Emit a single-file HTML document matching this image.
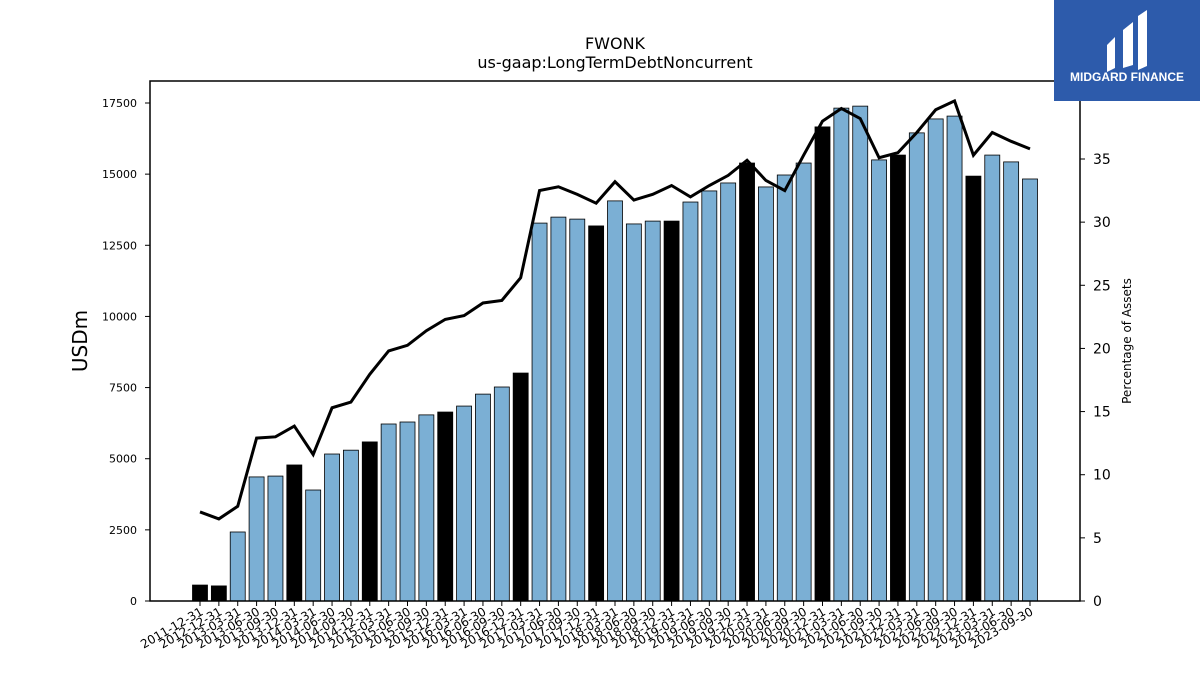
<!DOCTYPE html>
<html><head><meta charset="utf-8"><style>
body{margin:0;background:#fff;width:1200px;height:675px;overflow:hidden;font-family:"DejaVu Sans","Liberation Sans",sans-serif}
</style></head><body>
<svg id="c" width="1200" height="675" xmlns="http://www.w3.org/2000/svg">
<text x="615" y="49" text-anchor="middle" font-size="16">FWONK</text>
<text x="615" y="68" text-anchor="middle" font-size="16">us-gaap:LongTermDebtNoncurrent</text>
<text transform="translate(87,341) rotate(-90)" text-anchor="middle" font-size="20">USDm</text>
<text transform="translate(1131,341) rotate(-90)" text-anchor="middle" font-size="12">Percentage of Assets</text>
<g id="bars"></g><g id="ticks"></g>
<rect x="150" y="81" width="930" height="520" fill="none" stroke="#000" stroke-width="1.5"/>
<g>
<rect x="1054" y="0" width="146" height="101" fill="#2d5bab"/>
<path d="M1107 45 L1115 37 L1115 68 L1107 72 Z M1123 30 L1133 22 L1133 65 L1123 68 Z M1138 16 L1147 10 L1147 66 L1138 70 Z" fill="#fff"/>
<text x="1127" y="81" text-anchor="middle" font-size="12" font-weight="bold" fill="#fff" font-family="Liberation Sans, sans-serif">MIDGARD FINANCE</text>
</g>
</svg>
<script>
const categories=["2011-12-31","2012-12-31","2013-03-31","2013-06-30","2013-09-30","2013-12-31","2014-03-31","2014-06-30","2014-09-30","2014-12-31","2015-03-31","2015-06-30","2015-09-30","2015-12-31","2016-03-31","2016-06-30","2016-09-30","2016-12-31","2017-03-31","2017-06-30","2017-09-30","2017-12-31","2018-03-31","2018-06-30","2018-09-30","2018-12-31","2019-03-31","2019-06-30","2019-09-30","2019-12-31","2020-03-31","2020-06-30","2020-09-30","2020-12-31","2021-03-31","2021-06-30","2021-09-30","2021-12-31","2022-03-31","2022-06-30","2022-09-30","2022-12-31","2023-03-31","2023-06-30","2023-09-30"];
const debt=[560,530,2425,4360,4390,4780,3900,5165,5300,5590,6220,6290,6540,6640,6850,7270,7520,8010,13280,13490,13420,13180,14060,13250,13350,13350,14020,14410,14690,15390,14550,14970,15390,16660,17320,17390,15500,15670,16450,16940,17040,14930,15670,15430,14830];
const pct=[7.05,6.5,7.5,12.9,13.0,13.85,11.6,15.3,15.75,17.95,19.8,20.25,21.4,22.3,22.6,23.6,23.8,25.6,32.5,32.8,32.2,31.5,33.2,31.75,32.2,32.9,32.0,32.9,33.7,34.9,33.3,32.5,35.3,38.0,39.0,38.2,35.1,35.5,37.1,38.9,39.6,35.3,37.1,36.4,35.8];
const leftTicks=[0,2500,5000,7500,10000,12500,15000,17500];
const rightTicks=[0,5,10,15,20,25,30,35];
const NS="http://www.w3.org/2000/svg";
const x=i=>200+i*(830/(categories.length-1));
const y=v=>601-v*(498/17500);
const y2=v=>601-v*(442/35);
const bars=document.getElementById('bars'),ticks=document.getElementById('ticks');
function mk(tag,a,p){const e=document.createElementNS(NS,tag);for(const k in a)e.setAttribute(k,a[k]);p.appendChild(e);return e;}
categories.forEach((c,i)=>{
  const q4=c.endsWith('12-31');
  const r=mk('rect',{x:x(i)-7.5,y:y(debt[i]),width:15,height:601-y(debt[i]),fill:q4?'#000':'#7bafd4',stroke:'#000','stroke-width':0.8},bars);
  
  
  const t=mk('line',{x1:x(i),x2:x(i),y1:601,y2:606,stroke:'#000'},ticks);
  
  
  const l=mk('text',{x:x(i)+4,y:614,'text-anchor':'end','font-size':12,transform:`rotate(-30 ${x(i)+4} 614)`},ticks);
  l.textContent=c;
  
  
});
leftTicks.forEach(v=>{
  const t=mk('line',{x1:145,x2:150,y1:y(v),y2:y(v),stroke:'#000'},ticks);
  
  
  const l=mk('text',{x:137,y:y(v)+4,'text-anchor':'end','font-size':11},ticks);
  l.textContent=v;
  
  
});
rightTicks.forEach(v=>{
  const t=mk('line',{x1:1080,x2:1085,y1:y2(v),y2:y2(v),stroke:'#000'},ticks);
  
  
  const l=mk('text',{x:1093,y:y2(v)+5,'font-size':14},ticks);
  l.textContent=v;
  
  
});
const line=mk('polyline',{points:pct.map((v,i)=>x(i)+','+y2(v)).join(' '),fill:'none',stroke:'#000','stroke-width':3},bars);


</script>
</body></html>
